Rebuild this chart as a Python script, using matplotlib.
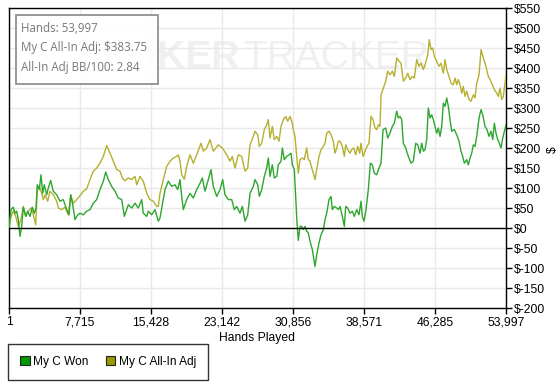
import matplotlib
matplotlib.use("Agg")
import matplotlib.pyplot as plt
from matplotlib.patches import Patch, Rectangle
from matplotlib.ticker import FuncFormatter

# x ticks (hands) and y ticks (dollars)
x_ticks = [1, 7715, 15428, 23142, 30856, 38571, 46285, 53997]
y_ticks = [-200, -150, -100, -50, 0, 50, 100, 150, 200, 250, 300, 350, 400, 450, 500, 550]

# "My C Won" series
won_hands = [1, 218, 468, 653, 838, 1011, 1196, 1381, 1555, 1815, 2033, 2283, 2533, 2750, 2935,
             3076, 3293, 3478, 3663, 3836, 4097, 4271, 4532, 4814, 5184, 5542, 5901, 6270, 6520,
             6705, 6922, 7172, 7465, 7715, 8074, 8443, 8802, 9160, 9530, 9888, 10247, 10507,
             10790, 11159, 11518, 11876, 12246, 12528, 12963, 13332, 13691, 14049, 14419, 14593,
             14962, 15136, 15505, 15864, 16222, 16407, 16766, 16950, 17309, 17678, 18037, 18330,
             18580, 18765, 18939, 19308, 19667, 20025, 20395, 20753, 21003, 21296, 21655, 21948,
             22198, 22568, 22926, 23220, 23469, 23828, 24197, 24480, 24741, 25099, 25349, 25642,
             25936, 26186, 26544, 26729, 27022, 27196, 27457, 27739, 28000, 28174, 28359, 28609,
             28826, 29087, 29261, 29554, 29695, 29913, 30173, 30423, 30640, 30782, 30999, 31151,
             31292, 31434, 31618, 31803, 31977, 32161, 32346, 32520, 32705, 32955, 33248, 33433,
             33683, 33900, 34150, 34334, 34519, 34769, 34986, 35128, 35345, 35606, 35780, 35964,
             36214, 36432, 36584, 36801, 37051, 37301, 37518, 37779, 38029, 38246, 38387, 38572,
             38789, 39039, 39256, 39474, 39691, 39952, 40202, 40419, 40636, 40929, 41147, 41397,
             41647, 41864, 42125, 42299, 42483, 42668, 42842, 43102, 43385, 43678, 43928, 44189,
             44407, 44656, 44841, 45015, 45199, 45384, 45558, 45743, 45927, 46101, 46286, 46471,
             46645, 46829, 47014, 47188, 47372, 47557, 47731, 47916, 48100, 48383, 48644, 48894,
             49111, 49296, 49470, 49730, 49904, 50089, 50274, 50447, 50632, 50817, 51067, 51284,
             51469, 51718, 51936, 52153, 52370, 52555, 52729, 52914, 53099, 53272, 53457, 53642,
             53997]
won_vals = [0, 46, 52, 37, 42, 21, -21, 4, 52, 29, 42, 29, 52, 37, 50,
            108, 96, 133, 87, 108, 83, 100, 119, 92, 83, 67, 71, 46, 33,
            83, 58, 21, 33, 37, 33, 42, 46, 62, 71, 96, 117, 140,
            121, 104, 92, 75, 71, 29, 58, 50, 62, 50, 71, 37,
            29, 42, 33, 46, 17, 25, 71, 96, 117, 104, 108, 96,
            121, 79, 46, 71, 87, 75, 96, 112, 125, 92, 121, 146,
            104, 79, 96, 121, 83, 71, 71, 46, 54, 37, 54, 17,
            33, 87, 104, 121, 108, 79, 96, 129, 150, 175, 129, 158,
            125, 129, 158, 167, 200, 171, 179, 183, 187, 158, 146, 79,
            12, -31, 4, 4, -4, 4, -8, -12, -33, -54, -96, -67,
            -37, -17, -4, 21, 37, 71, 79, 46, 54, 50, 46, 54,
            29, 4, 54, 50, 37, 42, 29, 46, 33, 67, 29, 17,
            46, 96, 162, 158, 137, 133, 150, 162, 246, 250, 225, 237,
            254, 262, 292, 275, 279, 271, 212, 200, 179, 162, 167, 212,
            208, 187, 212, 192, 196, 221, 300, 275, 283, 271, 254, 237,
            250, 229, 254, 312, 304, 325, 304, 271, 242, 246, 233, 217,
            192, 179, 162, 171, 158, 175, 187, 208, 204, 229, 275, 296,
            283, 254, 246, 229, 242, 221, 262, 237, 221, 212, 200, 225,
            258]

# "My C All-In Adj" series
adj_hands = [1, 218, 468, 729, 1011, 1305, 1555, 1815, 2098, 2391, 2641, 2902, 3076, 3293,
             3478, 3728, 3912, 4206, 4456, 4814, 5184, 5358, 5727, 6086, 6444, 6705, 6987,
             7357, 7715, 8074, 8443, 8802, 9160, 9530, 9888, 10247, 10616, 10975, 11333,
             11703, 12061, 12311, 12604, 12963, 13332, 13691, 13875, 14234, 14593, 14962,
             15321, 15679, 16049, 16222, 16407, 16766, 17135, 17494, 17852, 18221, 18395,
             18580, 18765, 19047, 19308, 19667, 20025, 20395, 20862, 21112, 21481, 21840,
             22198, 22742, 23177, 23654, 24013, 24263, 24556, 24915, 25284, 25642, 25936,
             26186, 26544, 26729, 27022, 27196, 27457, 27739, 28000, 28174, 28359, 28609,
             28826, 29087, 29337, 29554, 29804, 30064, 30282, 30532, 30716, 30890, 31075,
             31260, 31434, 31618, 31868, 32085, 32346, 32520, 32705, 32889, 33063, 33248,
             33433, 33683, 33900, 34150, 34334, 34519, 34769, 34986, 35236, 35421, 35606,
             35780, 35964, 36214, 36432, 36584, 36801, 37051, 37235, 37453, 37670, 37887,
             38105, 38246, 38463, 38681, 38898, 39115, 39332, 39550, 39767, 39952, 40126,
             40310, 40419, 40669, 40929, 41147, 41397, 41647, 41864, 42125, 42375, 42592,
             42842, 43102, 43320, 43570, 43820, 44037, 44298, 44548, 44765, 45015, 45199,
             45493, 45667, 45851, 46036, 46210, 46471, 46721, 46938, 47188, 47372, 47557,
             47807, 48024, 48274, 48459, 48644, 48818, 49003, 49187, 49361, 49546, 49730,
             49980, 50197, 50447, 50632, 50817, 51067, 51284, 51534, 51718, 51903, 52077,
             52262, 52512, 52729, 52990, 53164, 53348, 53533, 53707, 53997]
adj_vals = [0, 29, 42, 29, 4, 21, 54, 29, 42, 50, 33, 8, 100, 104,
            92, 71, 83, 67, 92, 83, 67, 50, 46, 52, 33, 83, 62,
            71, 81, 92, 98, 121, 142, 150, 162, 179, 206, 187, 167,
            146, 142, 125, 118, 125, 121, 129, 108, 129, 117, 87,
            71, 67, 54, 54, 87, 121, 154, 167, 175, 179, 183,
            167, 133, 122, 154, 183, 162, 183, 212, 192, 200, 221,
            192, 208, 200, 183, 167, 179, 150, 183, 179, 142, 150,
            208, 229, 242, 233, 204, 212, 246, 258, 271, 225, 254,
            221, 229, 217, 254, 271, 279, 267, 279, 267, 246, 229,
            179, 137, 171, 175, 171, 200, 171, 167, 150, 137, 121,
            146, 179, 196, 204, 212, 237, 242, 233, 217, 187, 200,
            217, 217, 204, 179, 208, 196, 187, 196, 200, 183, 204,
            187, 212, 179, 192, 204, 212, 279, 271, 250, 246, 258,
            254, 333, 350, 367, 392, 383, 392, 379, 425, 417, 412,
            367, 375, 387, 371, 379, 375, 421, 404, 412, 396, 408,
            433, 471, 446, 450, 429, 417, 404, 412, 387, 421, 396,
            379, 362, 358, 375, 358, 371, 358, 337, 354, 329, 342,
            321, 317, 333, 325, 362, 383, 446, 425, 412, 396, 379,
            371, 358, 346, 337, 329, 350, 321, 329, 383.75]

W, H = 559, 383
fig = plt.figure(figsize=(W / 100, H / 100), dpi=100)
fig.patch.set_facecolor("white")
font = "Liberation Sans"

ax = fig.add_axes([9 / W, 1 - 308 / H, 497 / W, 300 / H])
ax.set_xlim(x_ticks[0], x_ticks[-1])
ax.set_ylim(y_ticks[0], y_ticks[-1])

# faint watermark behind the plot
ax.text(0.465, 0.835, "POKER", transform=ax.transAxes, fontsize=28, fontweight="bold",
        color="#f0f0f0", family=font, ha="right", va="center", zorder=0)
ax.text(0.471, 0.835, "TRACKER", transform=ax.transAxes, fontsize=28,
        color="#f0f0f0", family=font, ha="left", va="center", zorder=0)

ax.plot(adj_hands, adj_vals, color="#b5b030", lw=1.0, zorder=3)
ax.plot(won_hands, won_vals, color="#2ea62e", lw=1.0, zorder=4)
ax.axhline(0, color="black", lw=1.0, zorder=5)

ax.set_xticks(x_ticks)
ax.set_xticklabels([f"{t:,}" for t in x_ticks])
ax.set_yticks(y_ticks)
ax.yaxis.set_major_formatter(FuncFormatter(lambda v, p: f"${int(v)}"))
ax.yaxis.tick_right()
ax.grid(True, color="#e9e9e9", lw=1.0, zorder=1)
ax.set_axisbelow(True)
for s in ax.spines.values():
    s.set_color("black")
    s.set_linewidth(1.0)
ax.tick_params(axis="y", direction="out", length=4, width=1, pad=2, labelsize=8.7)
ax.tick_params(axis="x", direction="out", length=4, width=1, pad=2, labelsize=8.7)
for lab in ax.get_xticklabels() + ax.get_yticklabels():
    lab.set_family(font)

fig.text(257 / W, 1 - 338 / H, "Hands Played", ha="center", va="center",
         fontsize=8.7, family=font)
fig.text(553 / W, 1 - 150 / H, "$", ha="center", va="center", rotation=90,
         fontsize=8.7, family=font)

# tooltip box
ax.add_patch(Rectangle((16 / W, 1 - 84 / H), 142 / W, 69 / H, transform=fig.transFigure,
                       facecolor="white", edgecolor="#888888", lw=1.3, alpha=0.92, zorder=6))
tip_lines = ["Hands: 53,997", "My C All-In Adj: $383.75", "All-In Adj BB/100: 2.84"]
for i, line in enumerate(tip_lines):
    fig.text(21 / W, 1 - (28 + 20 * i) / H, line, ha="left", va="center",
             fontsize=8.3, color="#777777", family="Open Sans", zorder=7)

handles = [Patch(facecolor="#009900", edgecolor="#222222", lw=0.8, label="My C Won"),
           Patch(facecolor="#999900", edgecolor="#222222", lw=0.8, label="My C All-In Adj")]
leg = fig.legend(handles=handles, loc="lower left", bbox_to_anchor=(8 / W, 3 / H, 200 / W, 36 / H),
                 mode="expand", ncol=2, frameon=True, fancybox=False, edgecolor="black",
                 prop={"family": font, "size": 8.6}, handlelength=0.8, handleheight=0.8,
                 handletextpad=0.3, borderaxespad=0, borderpad=1.0, columnspacing=1.5)
leg.get_frame().set_linewidth(1.0)

fig.savefig("out.png", dpi=100)
